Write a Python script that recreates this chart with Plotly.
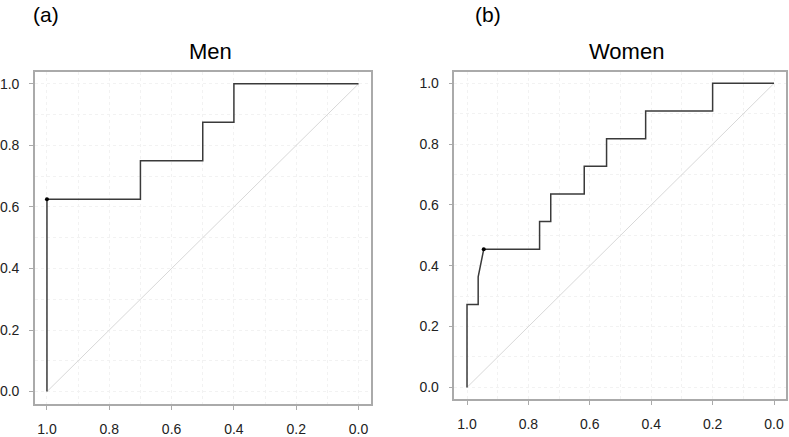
import plotly.graph_objects as go

# Men: 8 cases, 10 controls
men_spec = [1.0, 1.0, 0.7, 0.7, 0.5, 0.5, 0.4, 0.4, 0.0]
men_sens = [0.0, 0.625, 0.625, 0.75, 0.75, 0.875, 0.875, 1.0, 1.0]
men_best = (1.0, 0.625)

# Women: 11 cases, 55 controls
women_spec = [1.0, 1.0, 53/55, 53/55, 52/55, 42/55, 42/55, 40/55, 40/55, 34/55, 34/55,
              30/55, 30/55, 23/55, 23/55, 11/55, 11/55, 0.0]
women_sens = [0.0, 3/11, 3/11, 4/11, 5/11, 5/11, 6/11, 6/11, 7/11, 7/11, 8/11,
              8/11, 9/11, 9/11, 10/11, 10/11, 1.0, 1.0]
women_best = (52/55, 5/11)

tick_vals = [0.0, 0.2, 0.4, 0.6, 0.8, 1.0]
tick_text = ["0.0", "0.2", "0.4", "0.6", "0.8", "1.0"]

fig = go.Figure()

panels = [
    ("x", "y", men_spec, men_sens, men_best),
    ("x2", "y2", women_spec, women_sens, women_best),
]
for xa, ya, sx, sy, best in panels:
    fig.add_trace(go.Scatter(x=[1, 0], y=[0, 1], mode="lines",
                             line=dict(color="#d8d8d8", width=1),
                             xaxis=xa, yaxis=ya, hoverinfo="skip"))
    fig.add_trace(go.Scatter(x=sx, y=sy, mode="lines",
                             line=dict(color="#3a3a3a", width=1.5),
                             xaxis=xa, yaxis=ya))
    fig.add_trace(go.Scatter(x=[best[0]], y=[best[1]], mode="markers",
                             marker=dict(color="black", size=4),
                             xaxis=xa, yaxis=ya))

font = dict(family="Liberation Sans, Arial, sans-serif", size=14, color="#222222")

def axis_style(**kw):
    d = dict(
        tickmode="array", tickvals=tick_vals, ticktext=tick_text,
        ticks="outside", ticklen=4, tickcolor="#aaaaaa", tickwidth=1,
        showline=True, mirror=True, linecolor="#aaaaaa", linewidth=1.5,
        showgrid=True, gridcolor="#f2f2f2", griddash="dot", gridwidth=1,
        minor=dict(dtick=0.1, tick0=0, showgrid=True, gridcolor="#f2f2f2",
                   griddash="dot", gridwidth=1, ticks=""),
        zeroline=False, tickfont=font, ticklabelstandoff=7,
    )
    d.update(kw)
    return d

title_font = dict(family="Liberation Sans, Arial", size=22, color="black")
label_font = dict(family="Liberation Sans, Arial", size=21, color="black")

fig.update_layout(
    width=789, height=437,
    margin=dict(l=0, r=0, t=0, b=0),
    plot_bgcolor="white", paper_bgcolor="white",
    showlegend=False,
    xaxis=axis_style(domain=[34/789, 370/789], range=[1.0385, -0.0385], anchor="y"),
    yaxis=axis_style(domain=[30/437, 365/437], range=[-0.041, 1.04], anchor="x"),
    xaxis2=axis_style(domain=[454/789, 786/789], range=[1.041, -0.039], anchor="y2"),
    yaxis2=axis_style(domain=[35/437, 365/437], range=[-0.039, 1.039], anchor="x2"),
    annotations=[
        dict(text="(a)", x=45.5/789, y=1 - 15/437, xref="paper", yref="paper",
             xanchor="center", yanchor="middle", showarrow=False, font=label_font),
        dict(text="(b)", x=487.5/789, y=1 - 15/437, xref="paper", yref="paper",
             xanchor="center", yanchor="middle", showarrow=False, font=label_font),
        dict(text="Men", x=210/789, y=1 - 52/437, xref="paper", yref="paper",
             xanchor="center", yanchor="middle", showarrow=False, font=title_font),
        dict(text="Women", x=626/789, y=1 - 52/437, xref="paper", yref="paper",
             xanchor="center", yanchor="middle", showarrow=False, font=title_font),
    ],
)

fig.write_html("out.html", config={"displayModeBar": False},
               post_script="document.body.style.margin='0';")
